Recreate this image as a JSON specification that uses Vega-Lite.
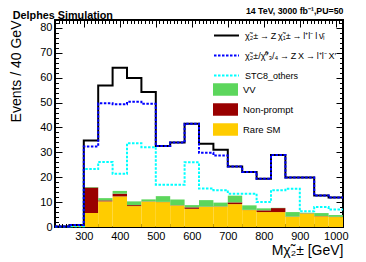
{
  "$schema": "https://vega.github.io/schema/vega-lite/v6.json",
  "width": 288,
  "height": 207,
  "autosize": {"type": "none"},
  "padding": {"left": 55, "top": 20, "right": 23, "bottom": 35},
  "config": {
    "font": "Liberation Sans",
    "view": {"stroke": "#000", "strokeWidth": 2},
    "axis": {"domain": false, "grid": false, "labelFont": "Liberation Sans", "labelFontSize": 11, "labelColor": "#000", "tickColor": "#000", "tickWidth": 1, "titleColor": "#000", "titleFont": "Liberation Sans", "titleFontWeight": "normal"},
    "legend": {"padding": 0, "labelFont": "Liberation Sans", "labelFontSize": 9.5, "labelColor": "#000", "labelLimit": 200}
  },
  "title": {"text": "Delphes Simulation", "anchor": "start", "fontSize": 10.8, "fontWeight": "bold", "color": "#000", "dx": 3, "dy": 14, "offset": 0},
  "datasets": {
    "bkg": [
      {"lo": 220, "hi": 260, "rare": 0.1, "np": 0, "vv": 0},
      {"lo": 260, "hi": 300, "rare": 0.6, "np": 0, "vv": 0},
      {"lo": 300, "hi": 340, "rare": 5.6, "np": 10.3, "vv": 0.2},
      {"lo": 340, "hi": 380, "rare": 10.3, "np": 0.4, "vv": 0.9},
      {"lo": 380, "hi": 420, "rare": 12.3, "np": 1.1, "vv": 1.1},
      {"lo": 420, "hi": 460, "rare": 8.4, "np": 0.4, "vv": 1.5},
      {"lo": 460, "hi": 500, "rare": 10.2, "np": 0.1, "vv": 0.8},
      {"lo": 500, "hi": 540, "rare": 10.0, "np": 0.1, "vv": 2.3},
      {"lo": 540, "hi": 580, "rare": 8.6, "np": 0.1, "vv": 2.4},
      {"lo": 580, "hi": 620, "rare": 7.3, "np": 0.6, "vv": 0.9},
      {"lo": 620, "hi": 660, "rare": 8.1, "np": 0.1, "vv": 2.6},
      {"lo": 660, "hi": 700, "rare": 8.2, "np": 0.1, "vv": 1.5},
      {"lo": 700, "hi": 740, "rare": 9.2, "np": 0.7, "vv": 2.7},
      {"lo": 740, "hi": 780, "rare": 6.8, "np": 0.1, "vv": 1.8},
      {"lo": 780, "hi": 820, "rare": 6.0, "np": 0.7, "vv": 0.8},
      {"lo": 820, "hi": 860, "rare": 6.0, "np": 1.6, "vv": 0.1},
      {"lo": 860, "hi": 900, "rare": 4.1, "np": 0.1, "vv": 1.8},
      {"lo": 900, "hi": 940, "rare": 5.4, "np": 0.1, "vv": 0.2},
      {"lo": 940, "hi": 980, "rare": 4.3, "np": 0.1, "vv": 1.2},
      {"lo": 980, "hi": 1020, "rare": 4.0, "np": 0.1, "vv": 0.7}
    ],
    "sig": [
      {"x": 220, "s1": 0.2, "s2": 0.2, "stc": 0.1},
      {"x": 260, "s1": 0.8, "s2": 0.8, "stc": 0.3},
      {"x": 300, "s1": 34.8, "s2": 32.4, "stc": 23.3},
      {"x": 340, "s1": 56.9, "s2": 49.7, "stc": 26.1},
      {"x": 380, "s1": 64.0, "s2": 49.3, "stc": 21.4},
      {"x": 420, "s1": 59.9, "s2": 50.3, "stc": 33.7},
      {"x": 460, "s1": 54.3, "s2": 49.5, "stc": 32.1},
      {"x": 500, "s1": 32.6, "s2": 32.6, "stc": 17.0},
      {"x": 540, "s1": 34.0, "s2": 34.0, "stc": 17.0},
      {"x": 580, "s1": 41.5, "s2": 41.5, "stc": 26.0},
      {"x": 620, "s1": 33.5, "s2": 29.8, "stc": 15.5},
      {"x": 660, "s1": 31.0, "s2": 28.7, "stc": 14.8},
      {"x": 700, "s1": 24.3, "s2": 24.3, "stc": 13.4},
      {"x": 740, "s1": 22.1, "s2": 22.1, "stc": 13.4},
      {"x": 780, "s1": 19.4, "s2": 19.4, "stc": 10.0},
      {"x": 820, "s1": 28.9, "s2": 28.9, "stc": 14.8},
      {"x": 860, "s1": 19.9, "s2": 19.9, "stc": 15.4},
      {"x": 900, "s1": 19.9, "s2": 19.9, "stc": 6.3},
      {"x": 940, "s1": 12.7, "s2": 12.7, "stc": 8.0},
      {"x": 980, "s1": 11.9, "s2": 11.9, "stc": 7.0},
      {"x": 1020, "s1": 11.9, "s2": 11.9, "stc": 7.0}
    ]
  },
  "layer": [
    {
      "data": {"name": "bkg"},
      "transform": [
        {"fold": ["rare", "np", "vv"], "as": ["proc", "n"]},
        {"calculate": "datum.proc === 'rare' ? 0 : datum.proc === 'np' ? 1 : 2", "as": "ord"},
        {"stack": "n", "groupby": ["lo"], "sort": [{"field": "ord", "order": "ascending"}], "as": ["y0", "y1"]}
      ],
      "mark": {"type": "bar"},
      "encoding": {
        "x": {
          "field": "lo", "type": "quantitative",
          "scale": {"domain": [220, 1020], "nice": false, "zero": false},
          "axis": {
            "orient": "bottom",
            "values": [220,230,240,250,260,270,280,290,300,310,320,330,340,350,360,370,380,390,400,410,420,430,440,450,460,470,480,490,500,510,520,530,540,550,560,570,580,590,600,610,620,630,640,650,660,670,680,690,700,710,720,730,740,750,760,770,780,790,800,810,820,830,840,850,860,870,880,890,900,910,920,930,940,950,960,970,980,990,1000,1010,1020],
            "labelExpr": "datum.value % 100 === 0 ? '' + datum.value : ''",
            "tickSize": {"condition": {"test": "datum.value % 100 === 0", "value": -7}, "value": -3.5},
            "labelPadding": 10,
            "labelFlush": false,
            "title": "M\u03c7\u0303\u2082\u00b1 [GeV]",
            "titleFontSize": 14,
            "titleAnchor": "end",
            "titleAlign": "right",
            "titlePadding": 2
          }
        },
        "x2": {"field": "hi"},
        "y": {
          "field": "y0", "type": "quantitative",
          "scale": {"domain": [0, 83.2], "nice": false},
          "axis": {
            "orient": "left",
            "values": [0,2,4,6,8,10,12,14,16,18,20,22,24,26,28,30,32,34,36,38,40,42,44,46,48,50,52,54,56,58,60,62,64,66,68,70,72,74,76,78,80,82],
            "labelExpr": "datum.value % 10 === 0 ? '' + datum.value : ''",
            "tickSize": {"condition": {"test": "datum.value % 10 === 0", "value": -7}, "value": -3.5},
            "labelPadding": 10,
            "labelFlush": false,
            "title": "Events / 40 GeV",
            "titleFontSize": 14,
            "titleAnchor": "end",
            "titlePadding": 16
          }
        },
        "y2": {"field": "y1"},
        "fill": {
          "field": "proc", "type": "nominal",
          "scale": {"domain": ["vv", "np", "rare"], "range": ["#5cd65c", "#990000", "#ffcc00"]},
          "legend": {
            "orient": "none", "legendX": 164, "legendY": 63, "title": null,
            "symbolType": "M-2,-1H2V1H-2Z", "symbolSize": 156, "symbolStrokeWidth": 0, "symbolOpacity": 1,
            "labelOffset": 11, "rowPadding": 7,
            "labelExpr": "datum.label === 'vv' ? 'VV' : datum.label === 'np' ? 'Non-prompt' : 'Rare SM'"
          }
        }
      }
    },
    {
      "data": {"name": "sig"},
      "transform": [
        {"fold": ["stc", "s1", "s2"], "as": ["s", "v"]}
      ],
      "mark": {"type": "line", "interpolate": "step-after", "strokeWidth": 2},
      "encoding": {
        "x": {
          "field": "x", "type": "quantitative",
          "axis": {
            "orient": "top",
            "values": [220,230,240,250,260,270,280,290,300,310,320,330,340,350,360,370,380,390,400,410,420,430,440,450,460,470,480,490,500,510,520,530,540,550,560,570,580,590,600,610,620,630,640,650,660,670,680,690,700,710,720,730,740,750,760,770,780,790,800,810,820,830,840,850,860,870,880,890,900,910,920,930,940,950,960,970,980,990,1000,1010,1020],
            "labels": false,
            "tickSize": {"condition": {"test": "datum.value % 100 === 0", "value": -7}, "value": -3.5},
            "title": "14 TeV, 3000 fb\u207b\u00b9,PU=50",
            "titleFontSize": 8.8,
            "titleFontWeight": "bold",
            "titleAnchor": "end",
            "titleAlign": "right",
            "titlePadding": 4
          }
        },
        "y": {
          "field": "v", "type": "quantitative",
          "axis": {
            "orient": "right",
            "values": [0,2,4,6,8,10,12,14,16,18,20,22,24,26,28,30,32,34,36,38,40,42,44,46,48,50,52,54,56,58,60,62,64,66,68,70,72,74,76,78,80,82],
            "labels": false,
            "tickSize": {"condition": {"test": "datum.value % 10 === 0", "value": -7}, "value": -3.5},
            "title": null
          }
        },
        "stroke": {
          "field": "s", "type": "nominal",
          "scale": {"domain": ["s1", "s2", "stc"], "range": ["#000000", "#0000ff", "#00ffff"]},
          "legend": {
            "orient": "none", "legendX": 164, "legendY": 8, "title": null,
            "symbolType": "M-2,0H2", "symbolSize": 156, "symbolStrokeWidth": 2,
            "labelOffset": 11, "rowPadding": 7, "labelFontSize": 9,
            "labelExpr": "datum.label === 's1' ? '\u03c7\u0303\u2082\u00b1\u2009\u2192\u2009Z\u2009\u03c7\u0303\u2081\u00b1\u2009\u2192\u2009l\u207al\u207b\u2009l\u2009\u03bd\u0304\u2097' : datum.label === 's2' ? '\u03c7\u0303\u2082\u00b1/\u03c7\u0303\u2070\u2083/\u2084\u2009\u2192\u2009Z\u2009X\u2009\u2192\u2009l\u207al\u207b\u2009X\u2032' : 'STC8_others'"
          }
        },
        "strokeDash": {
          "field": "s", "type": "nominal",
          "scale": {"domain": ["s1", "s2", "stc"], "range": [[1, 0], [2.5, 1.5], [2.5, 1.5]]},
          "legend": null
        }
      }
    }
  ],
  "resolve": {"axis": {"x": "independent", "y": "independent"}}
}
